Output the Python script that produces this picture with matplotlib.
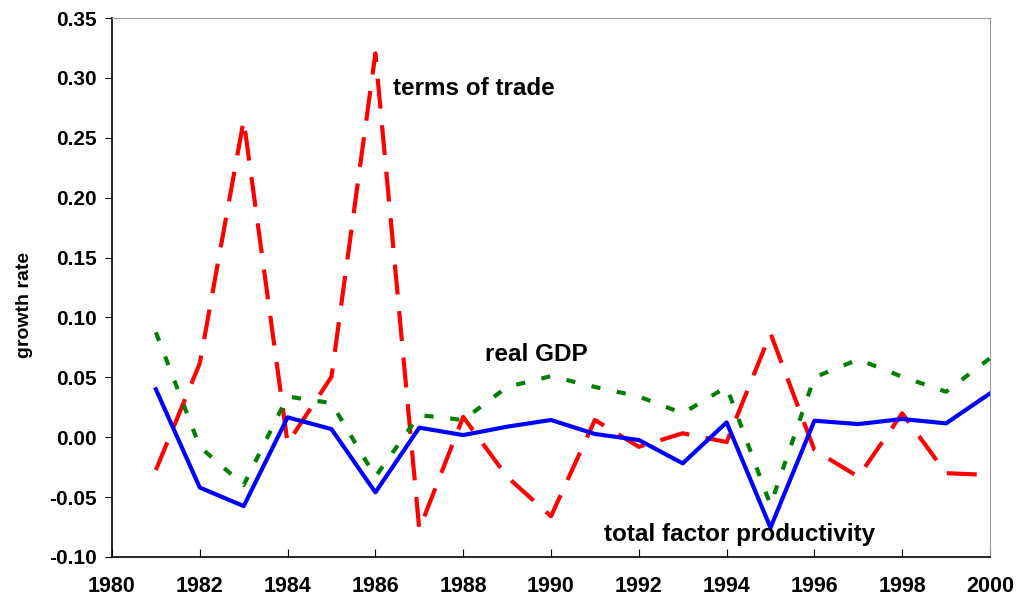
import matplotlib
matplotlib.use("Agg")
import matplotlib.pyplot as plt

years = list(range(1981, 2001))
tfp = [0.040, -0.042, -0.0575, 0.0166, 0.0068, -0.046, 0.008, 0.0018, 0.0088, 0.0144,
       0.0027, -0.0023, -0.0218, 0.0124, -0.0755, 0.0138, 0.011, 0.0152, 0.0116, 0.0366]
real_gdp = [0.0876, -0.008, -0.040, 0.034, 0.0285, -0.033, 0.0185, 0.0144, 0.042, 0.051,
            0.042, 0.034, 0.020, 0.042, -0.0566, 0.050, 0.065, 0.0505, 0.038, 0.066]
terms_of_trade = [-0.0274, 0.0617, 0.2648, -0.005, 0.0505, 0.3205, -0.077, 0.017, -0.033, -0.066,
                  0.0144, -0.008, 0.0033, -0.004, 0.0867, -0.0107, -0.033, 0.020, -0.030, -0.0316]

plt.rcParams["font.family"] = ["Liberation Sans", "DejaVu Sans"]
plt.rcParams["font.weight"] = "bold"

fig = plt.figure(figsize=(10.18, 6.03), dpi=100)
ax = fig.add_axes([0.110, 0.0763, 0.8625, 0.8937])

ax.plot(years, terms_of_trade, color="red", lw=3, dashes=(7.2, 4))
ax.plot(years, real_gdp, color="green", lw=3, dashes=(2.2, 4))
ax.plot(years, tfp, color="blue", lw=3)

ax.set_xlim(1980, 2000)
ax.set_ylim(-0.10, 0.35)
ax.set_xticks(range(1980, 2001, 2))
ax.set_yticks([i * 0.05 for i in range(-2, 8)])
ax.set_yticklabels([f"{i * 0.05:.2f}" for i in range(-2, 8)])
ax.tick_params(axis="x", direction="in", length=6, pad=14, labelsize=15.5)
ax.tick_params(axis="y", direction="out", length=5, pad=6, labelsize=15)
ax.set_ylabel("growth rate", fontsize=14, fontweight="bold")
ax.yaxis.set_label_coords(-0.09, 0.468)

for s in ["top", "right"]:
    ax.spines[s].set_color("#999999")
for s in ["left", "bottom"]:
    ax.spines[s].set_linewidth(1.2)

ax.text(1986.4, 0.291, "terms of trade", fontsize=17.5, fontweight="bold", va="center")
ax.text(1988.5, 0.069, "real GDP", fontsize=17.5, fontweight="bold", va="center")
ax.text(1991.2, -0.0815, "total factor productivity", fontsize=17.5, fontweight="bold", va="center")

fig.savefig("out.png", dpi=100)
